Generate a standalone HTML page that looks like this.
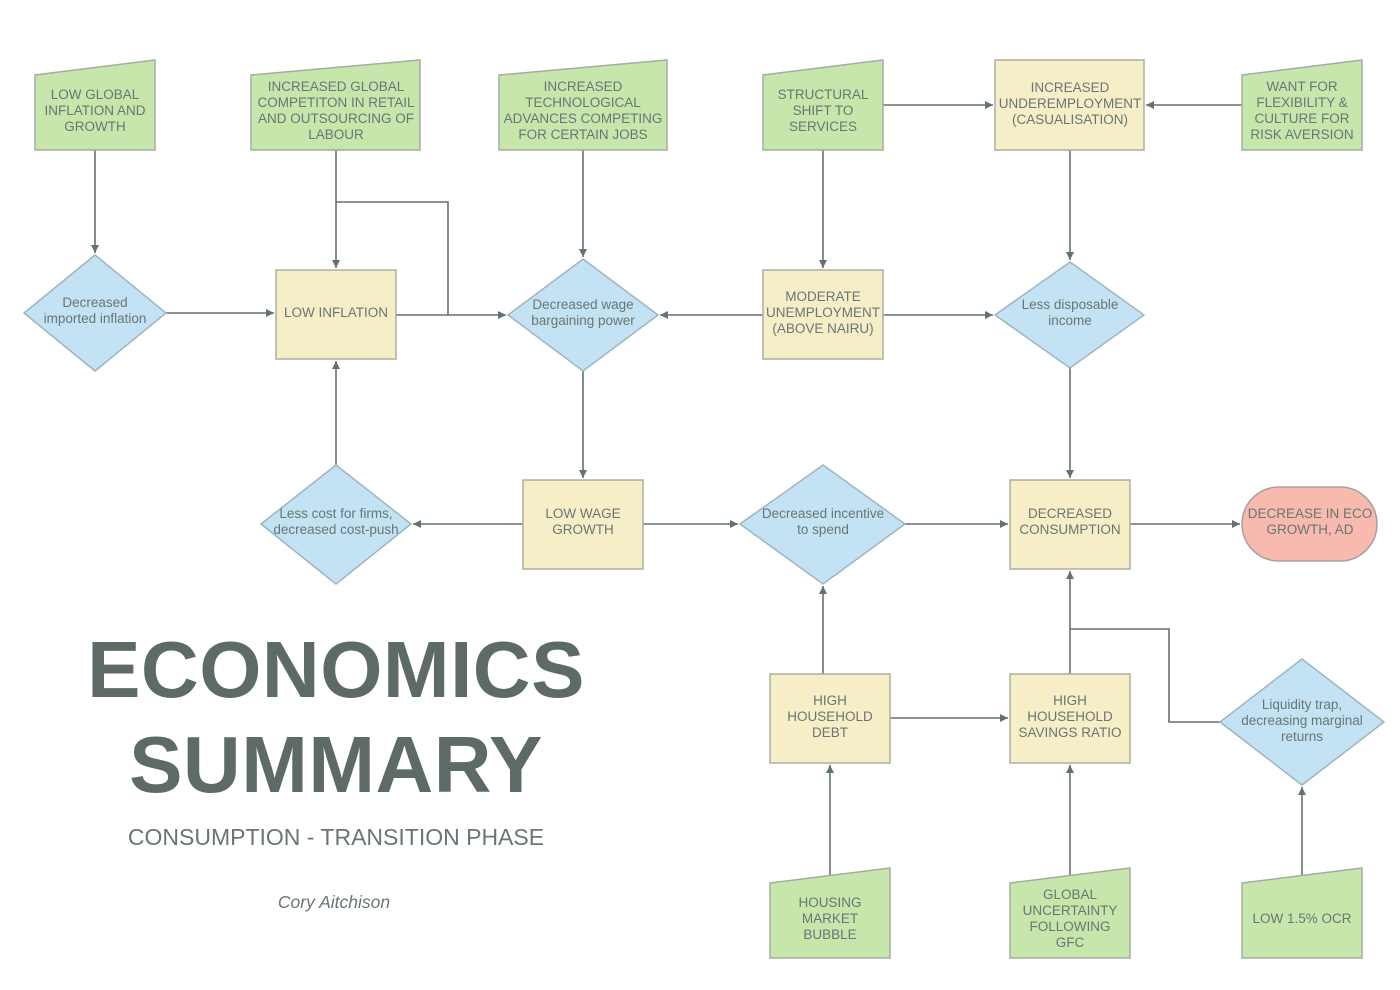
<!DOCTYPE html>
<html><head><meta charset="utf-8"><style>
html,body{margin:0;padding:0;background:#fff;}
svg{display:block;font-family:"Liberation Sans",sans-serif;}
.g{fill:#c7e6ab;stroke:#a3ada2;stroke-width:1.5}
.y{fill:#f6eec6;stroke:#aeaea0;stroke-width:1.5}
.b{fill:#c3e2f3;stroke:#9eb4c0;stroke-width:1.5}
.r{fill:#f8b9ae;stroke:#a8a0a0;stroke-width:1.5}
.l{fill:none;stroke:#637170;stroke-width:1.6}
text{fill:#6a7674;font-size:13.5px;text-anchor:middle}
</style></head><body>
<svg width="1400" height="990" viewBox="0 0 1400 990">
<defs><marker id="a" viewBox="0 0 10 10" refX="10" refY="5" markerWidth="8" markerHeight="8" markerUnits="userSpaceOnUse" orient="auto"><path d="M0,0 L10,5 L0,10z" fill="#637170"/></marker></defs>
<g class="l">
<path d="M396,315 H448"/>
<path d="M1220,722 H1169 V629 H1070"/>
</g>
<g class="l" marker-end="url(#a)">
<path d="M95,150 V253"/>
<path d="M336,150 V268"/>
<path d="M336,202 H448 V315 H506"/>
<path d="M166,313 H274"/>
<path d="M583,150 V257"/>
<path d="M823,150 V268"/>
<path d="M883,105 H993"/>
<path d="M1242,105 H1146"/>
<path d="M1070,150 V260"/>
<path d="M763,315 H660"/>
<path d="M883,315 H993"/>
<path d="M583,371 V478"/>
<path d="M1070,368 V478"/>
<path d="M523,524 H413"/>
<path d="M336,465 V361"/>
<path d="M643,524 H738"/>
<path d="M905,524 H1008"/>
<path d="M1130,524 H1240"/>
<path d="M823,674 V586"/>
<path d="M890,718 H1008"/>
<path d="M1070,674 V571"/>
<path d="M830,875 V765"/>
<path d="M1070,875 V765"/>
<path d="M1302,875 V787"/>
</g>
<path class="g" d="M35,75 L155,60 V150 H35z"/>
<path class="g" d="M251,75 L420,60 V150 H251z"/>
<path class="g" d="M499,75 L667,60 V150 H499z"/>
<path class="g" d="M763,75 L883,60 V150 H763z"/>
<path class="g" d="M1242,75 L1362,60 V150 H1242z"/>
<rect class="y" x="995" y="60" width="149" height="90"/>
<path class="b" d="M95,255 L166,313 L95,371 L24,313z"/>
<rect class="y" x="276" y="270" width="120" height="89"/>
<path class="b" d="M583,259 L658,315 L583,371 L508,315z"/>
<rect class="y" x="763" y="270" width="120" height="89"/>
<path class="b" d="M1070,262 L1144,315 L1070,368 L995,315z"/>
<path class="b" d="M336,465 L411,524 L336,584 L261,524z"/>
<rect class="y" x="523" y="480" width="120" height="89"/>
<path class="b" d="M823,465 L905,524 L823,584 L740,524z"/>
<rect class="y" x="1010" y="480" width="120" height="89"/>
<rect class="r" x="1242" y="487" width="135" height="74" rx="37"/>
<rect class="y" x="770" y="674" width="120" height="89"/>
<rect class="y" x="1010" y="674" width="120" height="89"/>
<path class="b" d="M1302,659 L1384,722 L1302,785 L1220,722z"/>
<path class="g" d="M770,883 L890,868 V958 H770z"/>
<path class="g" d="M1010,883 L1130,868 V958 H1010z"/>
<path class="g" d="M1242,883 L1362,868 V958 H1242z"/>
<text x="95" y="99">LOW GLOBAL</text><text x="95" y="115">INFLATION AND</text><text x="95" y="131">GROWTH</text>
<text x="336" y="91">INCREASED GLOBAL</text><text x="336" y="107">COMPETITON IN RETAIL</text><text x="336" y="123">AND OUTSOURCING OF</text><text x="336" y="139">LABOUR</text>
<text x="583" y="91">INCREASED</text><text x="583" y="107">TECHNOLOGICAL</text><text x="583" y="123">ADVANCES COMPETING</text><text x="583" y="139">FOR CERTAIN JOBS</text>
<text x="823" y="99">STRUCTURAL</text><text x="823" y="115">SHIFT TO</text><text x="823" y="131">SERVICES</text>
<text x="1070" y="92">INCREASED</text><text x="1070" y="108">UNDEREMPLOYMENT</text><text x="1070" y="124">(CASUALISATION)</text>
<text x="1302" y="91">WANT FOR</text><text x="1302" y="107">FLEXIBILITY &amp;</text><text x="1302" y="123">CULTURE FOR</text><text x="1302" y="139">RISK AVERSION</text>
<text x="95" y="307">Decreased</text><text x="95" y="323">imported inflation</text>
<text x="336" y="317">LOW INFLATION</text>
<text x="583" y="309">Decreased wage</text><text x="583" y="325">bargaining power</text>
<text x="823" y="301">MODERATE</text><text x="823" y="317">UNEMPLOYMENT</text><text x="823" y="333">(ABOVE NAIRU)</text>
<text x="1070" y="309">Less disposable</text><text x="1070" y="325">income</text>
<text x="336" y="518">Less cost for firms,</text><text x="336" y="534">decreased cost-push</text>
<text x="583" y="518">LOW WAGE</text><text x="583" y="534">GROWTH</text>
<text x="823" y="518">Decreased incentive</text><text x="823" y="534">to spend</text>
<text x="1070" y="518">DECREASED</text><text x="1070" y="534">CONSUMPTION</text>
<text x="1310" y="518">DECREASE IN ECO</text><text x="1310" y="534">GROWTH, AD</text>
<text x="830" y="705">HIGH</text><text x="830" y="721">HOUSEHOLD</text><text x="830" y="737">DEBT</text>
<text x="1070" y="705">HIGH</text><text x="1070" y="721">HOUSEHOLD</text><text x="1070" y="737">SAVINGS RATIO</text>
<text x="1302" y="709">Liquidity trap,</text><text x="1302" y="725">decreasing marginal</text><text x="1302" y="741">returns</text>
<text x="830" y="907">HOUSING</text><text x="830" y="923">MARKET</text><text x="830" y="939">BUBBLE</text>
<text x="1070" y="899">GLOBAL</text><text x="1070" y="915">UNCERTAINTY</text><text x="1070" y="931">FOLLOWING</text><text x="1070" y="947">GFC</text>
<text x="1302" y="923">LOW 1.5% OCR</text>
<text x="336" y="697" style="font-size:80px;font-weight:bold;fill:#5d6a68;letter-spacing:0.5px">ECONOMICS</text>
<text x="336" y="792" style="font-size:80px;font-weight:bold;fill:#5d6a68;letter-spacing:0.5px">SUMMARY</text>
<text x="336" y="845" style="font-size:23px">CONSUMPTION - TRANSITION PHASE</text>
<text x="334" y="908" style="font-size:17.5px;font-style:italic">Cory Aitchison</text>
</svg>
</body></html>
